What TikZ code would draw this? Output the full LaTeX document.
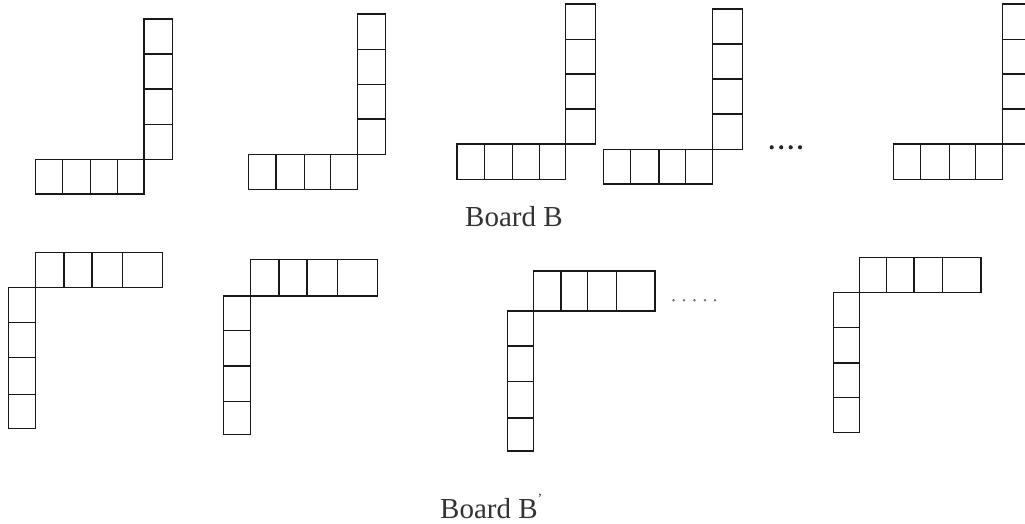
\documentclass[tikz,border=0pt]{standalone}
\usepackage{fontspec}
\setmainfont{Liberation Serif}
\newcommand\hcells[7]{\draw[cell] (#1,#6) rectangle (#5,#7); \draw[cell] (#2,#6)--(#2,#7) (#3,#6)--(#3,#7) (#4,#6)--(#4,#7);}
\newcommand\vcells[7]{\draw[cell] (#1,#3) rectangle (#2,#7); \draw[cell] (#1,#4)--(#2,#4) (#1,#5)--(#2,#5) (#1,#6)--(#2,#6);}
\begin{document}
\begin{tikzpicture}[x=1pt,y=-1pt,
  cell/.style={draw=black!90,line width=1.3pt},
  bigdot/.style={fill=black!85,draw=none},
  smalldot/.style={fill=black!55,draw=none},
  lbl/.style={anchor=base west,inner sep=0pt,font=\fontsize{29}{32}\selectfont,text=black!80}]
\useasboundingbox (0,0) rectangle (1025,524);
\clip (0,0) rectangle (1025,524);
% Board B
\vcells{144}{172.3}{19}{54}{89}{124.3}{159.3}
\hcells{35.3}{62.3}{90.3}{117.3}{144}{159.3}{194}
\vcells{357.3}{385.7}{14}{49.3}{84.3}{119}{154.3}
\hcells{248.7}{276}{304.3}{330.7}{357.3}{154.3}{189.3}
\vcells{565.7}{595.7}{4}{39.3}{74}{109}{144}
\hcells{457}{484.3}{512.3}{539.3}{565.7}{144}{179.3}
\vcells{712.7}{742.7}{9}{44}{79}{114}{149.3}
\hcells{603.7}{630.7}{659}{685.7}{712.7}{149.3}{184}
\vcells{1002.3}{1032}{4}{39.3}{74}{109}{144}
\hcells{893.7}{920.7}{949.3}{975.7}{1002.3}{144}{179.3}
\foreach \x in {771.7,781.2,790.7,800} \fill[bigdot] (\x,147.3) circle (2.1);
\node[lbl] (labB) at (465,226.7) {Board B};
% Board B'
\hcells{35.7}{64}{92}{122.3}{162.7}{252.3}{287.7}
\vcells{8.7}{35.7}{287.7}{322.3}{357.7}{394.3}{428.3}
\hcells{250.7}{279}{307}{337.7}{377.7}{259.3}{296}
\vcells{223.7}{250.7}{296}{330.7}{366}{401.3}{434.3}
\hcells{533.3}{561}{587.7}{616.7}{655}{271}{311}
\vcells{507.7}{533.3}{311}{346}{381.3}{418}{451}
\hcells{859.3}{886.7}{914}{942.7}{981}{257.7}{292.3}
\vcells{833.7}{859.3}{292.3}{327.7}{363}{397.3}{432.7}
\foreach \x in {673.5,684,694.5,705,715} \fill[smalldot] (\x,300.3) circle (1.4);
\node[lbl] (labBp) at (440,518.3) {Board B\raisebox{0.5em}{\fontsize{14}{14}\selectfont'}};
\end{tikzpicture}
\end{document}
